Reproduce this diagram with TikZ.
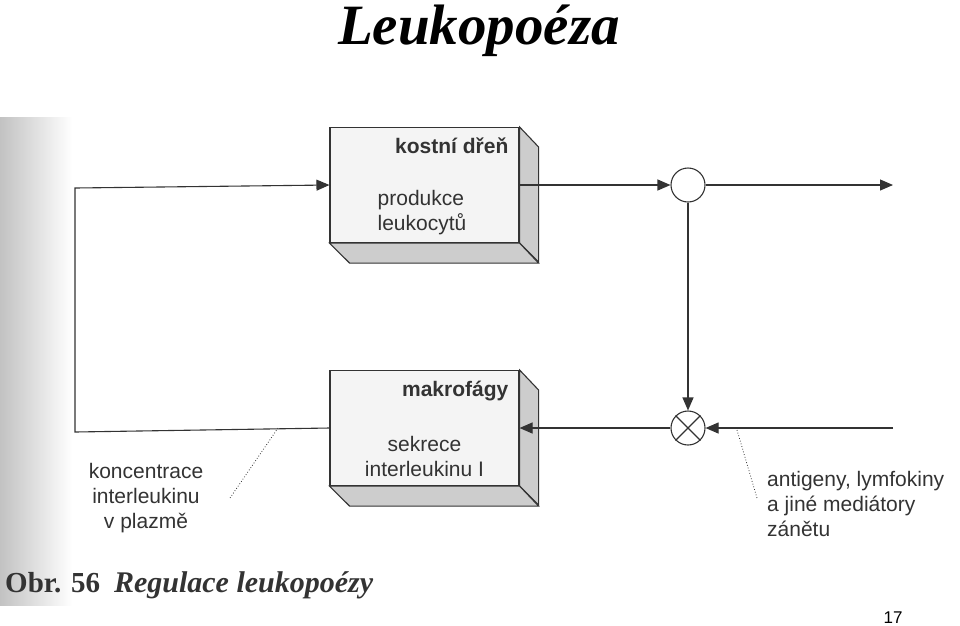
\documentclass[tikz,border=0pt]{standalone}
\usepackage{fontspec}
\setmainfont{Liberation Sans}
\newfontfamily\serifhead{Liberation Serif}
\usetikzlibrary{arrows.meta,positioning}

\definecolor{ink}{HTML}{333333}
\definecolor{face}{HTML}{F4F4F4}
\definecolor{side}{HTML}{CDCDCD}

\tikzset{
  wire/.style={draw=ink, line width=1.1pt},
  flow/.style={wire, -{Triangle[length=13pt,width=11pt]}},
  leader/.style={draw=ink, line width=0.8pt, dotted},
  frontbox/.style={draw=ink, line width=1.1pt, fill=face, minimum width=189pt, minimum height=115pt, inner sep=0pt},
  junction/.style={circle, draw=ink, line width=1.1pt, fill=white, minimum size=34pt, inner sep=0pt},
  txt/.style={text=ink, inner sep=0pt, font=\fontsize{21}{25}\selectfont},
  head/.style={txt, font=\fontsize{21}{25}\selectfont\bfseries}
}

\begin{document}
\begin{tikzpicture}[x=1pt, y=-1pt]

    % Page size of the reference
    \useasboundingbox (0,0) rectangle (960,625);

    % Scanned page, darker at its left edge
    \shade[left color=black!24, right color=white] (0,117) rectangle (72,605);

    % Title
    \node[anchor=base, inner sep=0pt, font=\fontsize{57}{60}\selectfont\serifhead\bfseries\itshape] (title) at (479,44) {Leukopoéza};

    % Front faces of the two blocks
    \node[frontbox] (bone) at (424.5,185) {};
    \node[frontbox] (macro) at (424.5,428) {};

    % Depth of the blocks: right side and bottom
    \foreach \b in {bone, macro} {
      \filldraw[fill=side, draw=ink, line width=1.1pt] (\b.north east) -- ++(19,20) -- ++(0,115) -- (\b.south east) -- cycle;
      \filldraw[fill=side, draw=ink, line width=1.1pt] (\b.south west) -- (\b.south east) -- ++(19,20) -- ++(-189,0) -- cycle;
    }

    % Texts in the blocks
    \node[head, anchor=north east, xshift=-11pt, yshift=-11pt] (boneName) at (bone.north east) {kostní dřeň};
    \node[txt, align=left, anchor=west, xshift=48pt, yshift=-28pt] (boneText) at (bone.west) {produkce\\leukocytů};
    \node[head, anchor=north east, xshift=-11pt, yshift=-11pt] (macroName) at (macro.north east) {makrofágy};
    \node[txt, align=center, yshift=-28pt] (macroText) at (macro.center) {sekrece\\interleukinu I};

    % The two junctions
    \node[junction] (split) at (688,185) {};
    \node[junction] (mix) at (688,428) {};
    \draw[wire] (mix.north west) -- (mix.south east);
    \draw[wire] (mix.north east) -- (mix.south west);

    % Free ends of the connectors
    \coordinate (outlet) at (893,185);
    \coordinate (inlet) at (893,428);
    \coordinate (upLeft) at (75,188);
    \coordinate (lowLeft) at (75,432);

    % Connectors
    \draw[flow] (bone.east) -- (split.west);
    \draw[flow] (split.east) -- (outlet);
    \draw[flow] (split.south) -- (mix.north);
    \draw[flow] (inlet) -- (mix.east);
    \draw[flow] (mix.west) -- (macro.east);
    \draw[flow] (macro.west) -- (lowLeft) -- (upLeft) -- (bone.west);

    % Labels with dotted leaders
    \node[txt, align=center, anchor=north] (plasma) at (146,463) {koncentrace\\interleukinu\\v plazmě};
    \node[txt, align=left, anchor=north west] (agents) at (767,471) {antigeny, lymfokiny\\a jiné mediátory\\zánětu};
    \coordinate (plasmaTip) at (278,428);
    \coordinate (plasmaEnd) at (230,498);
    \coordinate (agentsTip) at (737,430);
    \coordinate (agentsEnd) at (757,498);
    \draw[leader] (plasmaTip) -- (plasmaEnd);
    \draw[leader] (agentsTip) -- (agentsEnd);

    % Caption of the figure
    \node[anchor=base west, inner sep=0pt, text=ink, font=\fontsize{29}{30}\selectfont\serifhead] (caption) at (5,592) {\textbf{Obr. 56}\hspace{14pt}{\fontsize{30}{32}\selectfont\textbf{\textit{Regulace leukopoézy}}}};

    % Page number
    \node[anchor=base, inner sep=0pt, font=\fontsize{17}{20}\selectfont] (page) at (893,623) {17};

\end{tikzpicture}
\end{document}
